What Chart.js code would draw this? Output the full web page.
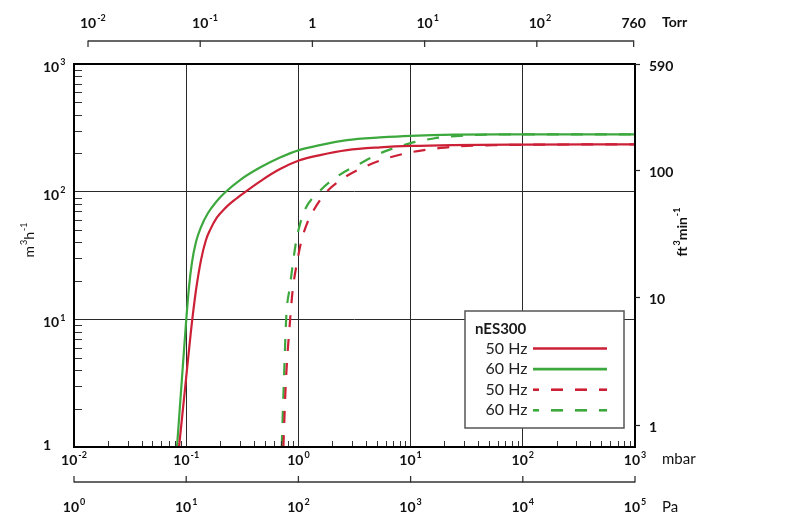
<!DOCTYPE html>
<html><head><meta charset="utf-8">
<script src="https://cdn.jsdelivr.net/npm/chart.js@4.4.1/dist/chart.umd.min.js"></script>
<style>html,body{margin:0;padding:0;background:#fff;}#wrap{width:800px;height:520px;}</style>
</head><body><div id="wrap"><canvas id="c" width="800" height="520"></canvas></div>
<script>
// ---- tick values and labels ----
const mbarTicks = [0.01, 0.1, 1, 10, 100, 1000];
const mbarLabels = ['10^{-2}', '10^{-1}', '10^{0}', '10^{1}', '10^{2}', '10^{3}'];
const torrTicks = [0.01, 0.1, 1, 10, 100, 760];
const torrLabels = ['10^{-2}', '10^{-1}', '1', '10^{1}', '10^{2}', '760'];
const paTicks = [1, 10, 100, 1000, 10000, 100000];
const paLabels = ['10^{0}', '10^{1}', '10^{2}', '10^{3}', '10^{4}', '10^{5}'];
const flowTicks = [1, 10, 100, 1000];
const flowLabels = ['1', '10^{1}', '10^{2}', '10^{3}'];
const cfmTicks = [1, 10, 100, 673];
const cfmLabels = ['1', '10', '100', '590'];
const MBAR_PER_TORR = 1.33322;
const MBAR_PER_PA = 0.01;

// ---- series (pressure in mbar, pumping speed in m3/h) ----
const red50P = [0.0863, 0.0976, 0.110, 0.122, 0.1355, 0.150, 0.163, 0.188, 0.222, 0.267, 0.3275, 0.474, 0.686, 1.01, 1.56, 2.71, 5.34, 10, 100, 1000];
const red50Q = [1, 2.85, 7.95, 16.7, 29.1, 41.8, 50, 62.8, 74.1, 85.5, 98, 123.3, 150.3, 175.2, 193.5, 211.7, 222.3, 228, 234, 235];
const green60P = [0.0828, 0.0917, 0.0996, 0.1059, 0.1127, 0.1222, 0.1355, 0.1564, 0.1844, 0.2217, 0.3016, 0.4548, 0.6855, 1.012, 1.558, 2.712, 5.337, 10, 62.6, 1000];
const green60Q = [1, 3.47, 9.35, 17.9, 28.1, 40.3, 52.8, 68, 82.9, 98.4, 123.3, 154.4, 184.9, 211.7, 231.7, 253.6, 266.2, 274, 281, 281];
const red50dP = [0.735, 0.77, 0.85, 0.89, 0.98, 1.07, 1.2, 1.36, 1.75, 2.6, 4.1, 6.6, 10.5, 18.5, 31.6, 54, 100, 1000];
const red50dQ = [1, 3, 10.8, 17, 29, 42, 57, 71, 98, 130, 160, 186, 205, 220, 228, 231, 233, 235];
const green60dP = [0.71, 0.74, 0.78, 0.84, 0.91, 0.96, 1.03, 1.14, 1.53, 2.2, 3.5, 5.3, 10, 16, 27.5, 54, 100, 1000];
const green60dQ = [1, 3, 10.5, 18, 31, 42, 55, 72, 100, 131, 165, 199, 240, 261, 274, 280, 281, 281];
const seriesLabels = ['50 Hz', '60 Hz', '50 Hz', '60 Hz'];
const legendTitle = 'nES300';

const RED = '#cc2036', GREEN = '#3da83d';
const FONT = 'Lato, "Open Sans", sans-serif';

function pts(P, Q) { return P.map((p, i) => ({ x: p, y: Q[i] })); }

function parseRich(s) {
  const segs = []; const re = /\^\{([^}]*)\}/g; let last = 0, m;
  while ((m = re.exec(s))) { if (m.index > last) segs.push({ t: s.slice(last, m.index), sup: false }); segs.push({ t: m[1], sup: true }); last = re.lastIndex; }
  if (last < s.length) segs.push({ t: s.slice(last), sup: false });
  return segs;
}
function richWidth(ctx, segs, size, weight) {
  let w = 0;
  segs.forEach(sg => { ctx.font = `${weight} ${sg.sup ? Math.round(size * 0.64) : size}px ${FONT}`; w += ctx.measureText(sg.t).width + (sg.sup ? 1 : 0); });
  return w;
}
function drawRich(ctx, s, x, y, o) {
  const size = o.size || 14, weight = o.weight || 'bold';
  const segs = parseRich(s);
  const total = richWidth(ctx, segs, size, weight);
  ctx.font = `${weight} ${size}px ${FONT}`;
  const bw = ctx.measureText(segs[0].sup ? '' : segs[0].t).width;
  let x0 = x;
  if (o.align === 'center') x0 = x - total / 2;
  else if (o.align === 'base') x0 = x - bw / 2;
  else if (o.align === 'right') x0 = x - total;
  ctx.textAlign = 'left'; ctx.textBaseline = 'middle'; ctx.fillStyle = o.color || '#111';
  segs.forEach(sg => {
    if (sg.sup) {
      ctx.font = `${weight} ${Math.round(size * 0.64)}px ${FONT}`;
      ctx.fillText(sg.t, x0 + 1, y - size * 0.36); x0 += ctx.measureText(sg.t).width + 1;
    } else {
      ctx.font = `${weight} ${size}px ${FONT}`;
      ctx.fillText(sg.t, x0, y); x0 += ctx.measureText(sg.t).width;
    }
  });
}
function line(ctx, x1, y1, x2, y2) { ctx.beginPath(); ctx.moveTo(x1, y1); ctx.lineTo(x2, y2); ctx.stroke(); }

const decor = {
  id: 'decor',
  afterDraw(chart) {
    const { ctx, chartArea: a, scales: { x, y, y2 } } = chart;
    ctx.save();
    // minor ticks (inside)
    ctx.strokeStyle = '#333'; ctx.lineWidth = 1;
    for (let k = -2; k < 3; k++) for (let m = 2; m < 10; m++) {
      const px = Math.round(x.getPixelForValue(m * Math.pow(10, k))) + 0.5;
      line(ctx, px, a.bottom, px, a.bottom - 6);
    }
    for (let k = 0; k < 3; k++) for (let m = 2; m < 10; m++) {
      const py = Math.round(y.getPixelForValue(m * Math.pow(10, k))) + 0.5;
      line(ctx, a.left, py, a.left + 8, py);
    }
    // frame
    ctx.strokeStyle = '#000'; ctx.lineWidth = 2;
    ctx.strokeRect(a.left, a.top, a.right - a.left, a.bottom - a.top);
    // left labels
    flowTicks.forEach((v, i) => {
      const py = y.getPixelForValue(v);
      const hasExp = flowLabels[i].includes('^');
      drawRich(ctx, flowLabels[i], 43, py + (hasExp ? 3.5 : -2), { align: 'left', size: 14 });
    });
    // bottom mbar labels
    mbarTicks.forEach((v, i) => drawRich(ctx, mbarLabels[i], x.getPixelForValue(v), 460, { align: 'center', size: 14 }));
    drawRich(ctx, 'mbar', 662, 459, { align: 'left', size: 15, weight: 'normal' });
    // right cfm axis
    ctx.strokeStyle = '#222'; ctx.lineWidth = 1.2;
    cfmTicks.forEach((v, i) => {
      const py = Math.round(y2.getPixelForValue(v)) + 0.5;
      line(ctx, a.right, py, a.right + 5, py);
      drawRich(ctx, cfmLabels[i], 649, py + 1.5, { align: 'left', size: 14 });
    });
    // top Torr axis
    const ty = 41;
    ctx.strokeStyle = '#333'; ctx.lineWidth = 1.3;
    const tx0 = x.getPixelForValue(torrTicks[0] * MBAR_PER_TORR);
    const tx1 = x.getPixelForValue(torrTicks[torrTicks.length - 1] * MBAR_PER_TORR) - 2;
    line(ctx, tx0, ty, tx1, ty);
    torrTicks.forEach((v, i) => {
      let px = x.getPixelForValue(v * MBAR_PER_TORR);
      if (i === torrTicks.length - 1) px = tx1;
      line(ctx, px, ty - 0.6, px, ty + 6);
      const lab = torrLabels[i];
      drawRich(ctx, lab, px, 23, { align: lab.includes('^') ? 'base' : 'center', size: 14 });
    });
    drawRich(ctx, 'Torr', 662, 22.5, { align: 'left', size: 14 });
    // bottom Pa axis
    const py0 = 482;
    const px0 = x.getPixelForValue(paTicks[0] * MBAR_PER_PA);
    const px1 = x.getPixelForValue(paTicks[paTicks.length - 1] * MBAR_PER_PA);
    line(ctx, px0, py0, px1, py0);
    paTicks.forEach((v, i) => {
      const px = x.getPixelForValue(v * MBAR_PER_PA);
      line(ctx, px, py0 + 0.6, px, py0 - 6);
      drawRich(ctx, paLabels[i], px, 507, { align: 'center', size: 14 });
    });
    drawRich(ctx, 'Pa', 662, 507.5, { align: 'left', size: 15, weight: 'normal' });
    // axis titles
    ctx.save(); ctx.translate(29, 240); ctx.rotate(-Math.PI / 2);
    drawRich(ctx, 'm^{3}h^{-1}', 0, 0, { align: 'center', size: 14, weight: 'normal' }); ctx.restore();
    ctx.save(); ctx.translate(682, 232); ctx.rotate(-Math.PI / 2);
    drawRich(ctx, 'ft^{3}min^{-1}', 0, 0, { align: 'center', size: 14, weight: 'bold' }); ctx.restore();
    // legend
    const L = { x: 465, y: 311, w: 159, h: 117 };
    ctx.fillStyle = '#fff'; ctx.fillRect(L.x, L.y, L.w, L.h);
    ctx.strokeStyle = '#555'; ctx.lineWidth = 1.5; ctx.strokeRect(L.x, L.y, L.w, L.h);
    drawRich(ctx, legendTitle, 475, 329, { align: 'left', size: 15, weight: 'bold', color: '#1a1a1a' });
    chart.data.datasets.forEach((ds, i) => {
      const iy = 348.5 + i * 20.6;
      drawRich(ctx, ds.label, 527.5, iy, { align: 'right', size: 16, weight: 'normal', color: '#222' });
      ctx.strokeStyle = ds.borderColor; ctx.lineWidth = 2.6;
      ctx.setLineDash(ds.borderDash || []); ctx.lineDashOffset = 6;
      line(ctx, 533, iy, 607, iy);
      ctx.setLineDash([]);
    });
    ctx.restore();
  }
};

function mk(label, P, Q, color, dash) {
  return { label, data: pts(P, Q), borderColor: color, backgroundColor: color, borderWidth: 2.2,
    borderDash: dash, showLine: true, pointRadius: 0, cubicInterpolationMode: 'monotone', fill: false };
}

new Chart(document.getElementById('c'), {
  type: 'scatter',
  data: {
    datasets: [
      mk(seriesLabels[0], red50P, red50Q, RED, []),
      mk(seriesLabels[1], green60P, green60Q, GREEN, []),
      mk(seriesLabels[2], red50dP, red50dQ, RED, [12, 12]),
      mk(seriesLabels[3], green60dP, green60dQ, GREEN, [12, 12])
    ]
  },
  options: {
    responsive: false, animation: false,
    layout: { padding: { top: 64, left: 0, right: 0, bottom: 0 } },
    plugins: { legend: { display: false }, tooltip: { enabled: false } },
    scales: {
      x: {
        type: 'logarithmic', min: mbarTicks[0], max: mbarTicks[mbarTicks.length - 1], position: 'bottom',
        afterBuildTicks: s => { s.ticks = mbarTicks.map(v => ({ value: v })); },
        afterFit: s => { s.height = 73; },
        ticks: { display: false },
        grid: { color: '#2a2a2a', lineWidth: 1, drawTicks: false },
        border: { display: false }
      },
      y: {
        type: 'logarithmic', min: flowTicks[0], max: flowTicks[flowTicks.length - 1], position: 'left',
        afterBuildTicks: s => { s.ticks = flowTicks.map(v => ({ value: v })); },
        afterFit: s => { s.width = 74; },
        ticks: { display: false },
        grid: { color: '#2a2a2a', lineWidth: 1, drawTicks: false },
        border: { display: false }
      },
      y2: {
        type: 'logarithmic', min: 0.673, max: 673, position: 'right',
        afterBuildTicks: s => { s.ticks = cfmTicks.map(v => ({ value: v })); },
        afterFit: s => { s.width = 165; },
        ticks: { display: false },
        grid: { display: false, drawTicks: false },
        border: { display: false }
      }
    }
  },
  plugins: [decor]
});
</script>
</body></html>
